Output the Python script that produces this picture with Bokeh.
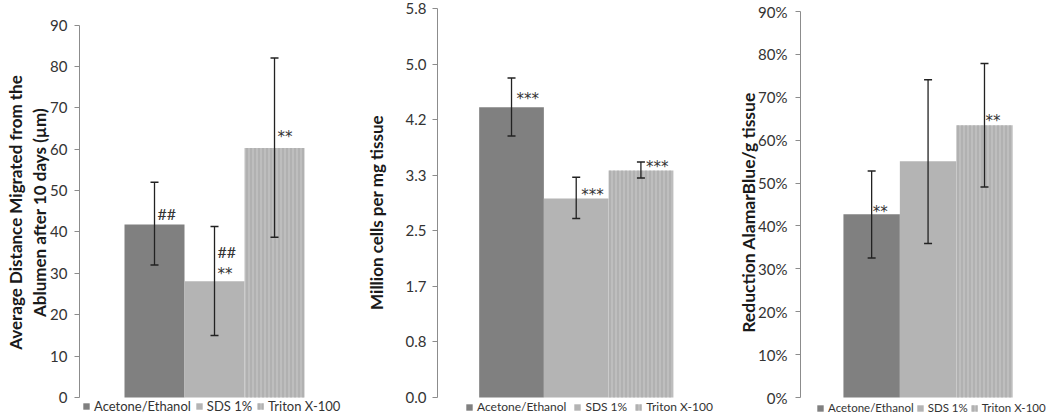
from bokeh.plotting import figure
from bokeh.layouts import row
from bokeh.models import (ColumnDataSource, Range1d, FixedTicker, Whisker, TeeHead, Title,
                          Legend, LegendItem, PrintfTickFormatter, NumeralTickFormatter)
from bokeh.core.properties import value
from bokeh.embed import file_html
from bokeh.resources import INLINE

# ---------------- data ----------------
categories = ["Acetone/Ethanol", "SDS 1%", "Triton X-100"]

migration_mean = [41.8, 28.1, 60.3]
migration_upper = [52.0, 41.3, 82.0]
migration_lower = [32.0, 15.0, 38.7]
migration_sig_text = ["##", "##", "**", "**"]
migration_sig_bar = [0, 1, 1, 2]
migration_sig_y = [44.4, 35.3, 30.9, 63.8]
migration_ticks = [0, 10, 20, 30, 40, 50, 60, 70, 80, 90]
migration_label = ["Average Distance Migrated from the", "Ablumen after 10 days (µm)"]

cells_mean = [4.36, 2.99, 3.41]
cells_upper = [4.80, 3.31, 3.54]
cells_lower = [3.93, 2.69, 3.30]
cells_sig_text = ["***", "***", "***"]
cells_sig_bar = [0, 1, 2]
cells_sig_y = [4.55, 3.10, 3.53]
cells_ticks = [0.0, 0.835, 1.67, 2.505, 3.34, 4.175, 5.01, 5.845]
cells_label = ["Million cells per mg tissue"]

alamar_mean = [0.427, 0.551, 0.635]
alamar_upper = [0.528, 0.741, 0.779]
alamar_lower = [0.325, 0.359, 0.491]
alamar_sig_text = ["**", "**"]
alamar_sig_bar = [0, 2]
alamar_sig_y = [0.441, 0.654]
alamar_ticks = [0.0, 0.1, 0.2, 0.3, 0.4, 0.5, 0.6, 0.7, 0.8, 0.9]
alamar_label = ["Reduction AlamarBlue/g tissue"]

FONT = "Lato"
fills = ["#808080", "#b4b4b4", "#bebebe"]
hatches = [" ", " ", "vertical_line"]

FIG_H = 416
BORDER_TOP = 8
ZERO_PX = 397          # pixel row of the value 0


def make_panel(width, left, right, xr, ymax, top_px, ticks, formatter, ylabel,
               means, uppers, lowers, sig_text, sig_bar, sig_y, sig_offset,
               tick_font, label_font, label_standoff, tick_standoff, legend_font,
               legend_x, legend_spacing):
    ppu = (ZERO_PX - top_px) / ymax
    ystart = -(FIG_H - ZERO_PX) / ppu
    yend = ymax + (top_px - BORDER_TOP) / ppu
    p = figure(width=width, height=FIG_H, output_backend="svg", toolbar_location=None,
               x_range=Range1d(*xr), y_range=Range1d(ystart, yend),
               min_border_left=left, min_border_right=right,
               min_border_top=BORDER_TOP, min_border_bottom=0)
    p.outline_line_color = None
    p.grid.visible = False
    p.xaxis.visible = False
    ax = p.yaxis[0]
    ax.ticker = FixedTicker(ticks=ticks)
    ax.bounds = (0, ymax)
    ax.formatter = formatter
    ax.axis_line_color = "#8c8c8c"
    ax.major_tick_line_color = "#8c8c8c"
    ax.major_tick_out = 5
    ax.major_tick_in = 0
    ax.minor_tick_line_color = None
    ax.major_label_text_font = FONT
    ax.major_label_text_font_size = tick_font
    ax.major_label_text_color = "#333333"
    ax.major_label_standoff = tick_standoff
    # last line of the label is the axis label, earlier lines are stacked outside it
    ax.axis_label = ylabel[-1]
    ax.axis_label_text_font = FONT
    ax.axis_label_text_font_style = "bold"
    ax.axis_label_text_font_size = label_font
    ax.axis_label_text_color = "#1a1a1a"
    ax.axis_label_standoff = label_standoff
    for line in reversed(ylabel[:-1]):
        p.add_layout(Title(text=line, align="center", text_font=FONT,
                           text_font_style="bold", text_font_size=label_font,
                           text_color="#1a1a1a", standoff=2), "left")

    xs = [i + 1 for i in range(len(categories))]
    renderers = []
    for i, cat in enumerate(categories):
        src = ColumnDataSource(dict(x=[xs[i]], top=[means[i]]))
        r = p.vbar(x="x", top="top", bottom=0, width=1.0, source=src,
                   fill_color=fills[i], line_color=None,
                   hatch_pattern=hatches[i], hatch_color="#a4a4a4",
                   hatch_scale=4, hatch_weight=1)
        renderers.append(r)

    esrc = ColumnDataSource(dict(x=xs, upper=uppers, lower=lowers))
    w = Whisker(base="x", upper="upper", lower="lower", source=esrc, level="overlay",
                line_color="#222222", line_width=1.3,
                upper_head=TeeHead(size=8, line_color="#222222", line_width=1.5),
                lower_head=TeeHead(size=8, line_color="#222222", line_width=1.5))
    p.add_layout(w)

    hx = [xs[b] for b, t in zip(sig_bar, sig_text) if t.startswith("#")]
    hy = [y for y, t in zip(sig_y, sig_text) if t.startswith("#")]
    ht = [t for t in sig_text if t.startswith("#")]
    sx = [xs[b] for b, t in zip(sig_bar, sig_text) if t.startswith("*")]
    sy = [y for y, t in zip(sig_y, sig_text) if t.startswith("*")]
    st = [t for t in sig_text if t.startswith("*")]
    if ht:
        p.text(x=hx, y=hy, text=ht, x_offset=sig_offset,
               text_font=value(FONT), text_font_size="16px", text_color="#333333",
               text_align="left", text_baseline="middle")
    if st:
        p.text(x=sx, y=sy, text=st, x_offset=sig_offset, y_offset=4,
               text_font=value("DejaVu Sans"), text_font_size="15px", text_color="#333333",
               text_align="left", text_baseline="middle")

    items = [LegendItem(label=cat, renderers=[renderers[i]]) for i, cat in enumerate(categories)]
    leg = Legend(items=items, orientation="horizontal", location=(legend_x, 2),
                 label_text_font=FONT, label_text_font_size=legend_font,
                 label_text_color="#333333", glyph_width=8, glyph_height=8,
                 label_standoff=4, spacing=legend_spacing, padding=0, margin=0,
                 label_width=10, label_height=13,
                 background_fill_alpha=0, border_line_color=None)
    p.add_layout(leg, "center")
    return p


p1 = make_panel(355, 79, 4, (-0.25, 4.283), 90, 24.5, migration_ticks,
                PrintfTickFormatter(format="%d"), migration_label,
                migration_mean, migration_upper, migration_lower,
                migration_sig_text, migration_sig_bar, migration_sig_y, 3,
                "15px", "17px", -3, 7, "13px", 3, 4)

p2 = make_panel(380, 82, 4, (-0.144, 4.40), 5.845, 8, cells_ticks,
                PrintfTickFormatter(format="%.1f"), cells_label,
                cells_mean, cells_upper, cells_lower,
                cells_sig_text, cells_sig_bar, cells_sig_y, 5,
                "15px", "17px", 16, 6, "12px", 28, 7)

p3 = make_panel(315, 64, 0, (-0.261, 4.17), 0.9, 11, alamar_ticks,
                NumeralTickFormatter(format="0%"), alamar_label,
                alamar_mean, alamar_upper, alamar_lower,
                alamar_sig_text, alamar_sig_bar, alamar_sig_y, 1,
                "15px", "17.5px", -4, 8, "11.5px", 16, 2)

layout = row(p1, p2, p3)
open("out.html", "w").write(file_html(layout, INLINE))
